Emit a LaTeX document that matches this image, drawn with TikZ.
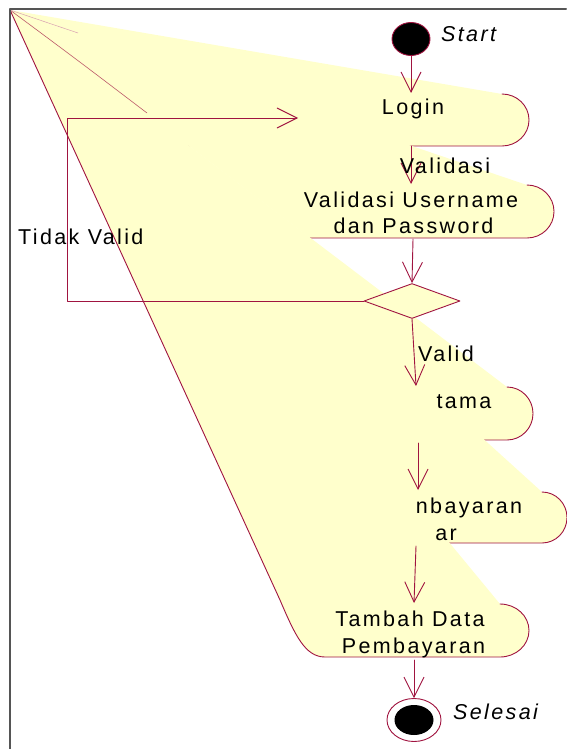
\documentclass[tikz,border=0pt]{standalone}
\usepackage{fontspec}
\setmainfont{Liberation Sans}[LetterSpace=11]
\usetikzlibrary{arrows.meta,shapes.geometric}
\definecolor{umlred}{RGB}{160,20,64}
\definecolor{umlfill}{RGB}{255,255,204}
\definecolor{framegray}{RGB}{85,85,85}
\tikzset{
  flow/.style={draw=umlred, line width=0.9pt, -{Straight Barb[length=20pt,width=20pt,line width=0.9pt]}},
  edge/.style={draw=umlred, line width=0.9pt},
  lbl/.style={inner sep=0pt, text=black},
  decision/.style={diamond, draw=umlred, fill=umlfill, line width=0.9pt, inner sep=0pt, minimum width=96pt, minimum height=35pt},
  startdot/.style={ellipse, draw=umlred, fill=black, line width=0.9pt, inner sep=0pt, minimum width=38pt, minimum height=33pt},
  enddot/.style={ellipse, draw=umlred, fill=white, line width=0.9pt, inner sep=0pt, minimum width=54pt, minimum height=43pt}
}
\begin{document}
\begin{tikzpicture}[x=1pt, y=-1pt, line join=round, line cap=round, font=\fontsize{21.5}{25}\selectfont]
  \useasboundingbox (0,0) rectangle (566,749);
  %%%%%%%%%%%%%%%%%%%%%%%%%%%%%%%%%
  \coordinate (O) at (10,10);
  \coordinate (login-n) at (411,93);
  \coordinate (login-s) at (411,146);
  \coordinate (login-w) at (298,118);
  \coordinate (val-n) at (411,184);
  \coordinate (val-s) at (413,239);
  \coordinate (uta-n) at (416,386);
  \coordinate (uta-s) at (418,443);
  \coordinate (bay-n) at (418,490);
  \coordinate (bay-s) at (416,546);
  \coordinate (tam-n) at (414,603);
  \coordinate (tam-s) at (414,660);
  \coordinate (loop-c) at (67,301);
  %%%%%%%%%%%%%%%%%%%%%%%%%%%%%%%%%
  % activities, all pulled to the corner
  \fill[umlfill] (O) -- (502,94) arc[start angle=-90, end angle=90, x radius=27, y radius=26] -- (185,146) -- cycle;
  \draw[edge] (502,94) arc[start angle=-90, end angle=90, x radius=27, y radius=26] -- (185,146);
  \fill[umlfill] (O) -- (527,185) arc[start angle=-90, end angle=90, x radius=27, y radius=26.5] -- (310,238) -- cycle;
  \draw[edge] (527,185) arc[start angle=-90, end angle=90, x radius=27, y radius=26.5] -- (310,238);
  \fill[umlfill] (O) -- (507,387) arc[start angle=-90, end angle=90, x radius=26, y radius=26.5] -- (330,440) -- cycle;
  \draw[edge] (507,387) arc[start angle=-90, end angle=90, x radius=26, y radius=26.5] -- (330,440);
  \fill[umlfill] (O) -- (542,492) arc[start angle=-90, end angle=90, x radius=25, y radius=25.5] -- (330,543) -- cycle;
  \draw[edge] (542,492) arc[start angle=-90, end angle=90, x radius=25, y radius=25.5] -- (330,543);
  \fill[umlfill] (O) -- (500,604) arc[start angle=-90, end angle=90, x radius=29, y radius=26.5] -- (325,657)
    .. controls (305,657) and (295,635) .. (280,600) -- cycle;
  \draw[edge] (500,604) arc[start angle=-90, end angle=90, x radius=29, y radius=26.5] -- (325,657)
    .. controls (305,657) and (295,635) .. (280,600) -- (O);
  \draw[umlred, line width=0.6pt, opacity=0.7] (O) .. controls (80,62) .. (147,113);
  \draw[umlred!40, line width=0.5pt] (O) -- (78,33);
  %%%%%%%%%%%%%%%%%%%%%%%%%%%%%%%%%
  \node[startdot] (start) at (411,39) {};
  \node[enddot] (stop) at (414,720) {};
  \fill[black] (stop.center) ellipse [x radius=19.5, y radius=15];
  \node[decision] (dec) at (412,301) {};
  %%%%%%%%%%%%%%%%%%%%%%%%%%%%%%%%%
  \draw[flow] (start.south) -- (login-n);
  \draw[flow] (login-s) -- (val-n);
  \draw[flow] (val-s) -- (dec.north);
  \draw[flow] (dec.south) -- (uta-n);
  \draw[flow] (uta-s) -- (bay-n);
  \draw[flow] (bay-s) -- (tam-n);
  \draw[flow] (tam-s) -- (stop.north);
  \draw[flow] (dec.west) -- (loop-c) |- (login-w);
  %%%%%%%%%%%%%%%%%%%%%%%%%%%%%%%%%
  \node[lbl, anchor=base west] (start-lbl) at (441,42) {\textit{Start}};
  \node[lbl, anchor=base] (login-txt) at (413,115) {Login};
  \node[lbl, anchor=base] (val-lbl) at (445,173) {Validasi};
  \node[lbl, anchor=base] (val-txt1) at (411,207) {Validasi Username};
  \node[lbl, anchor=base] (val-txt2) at (413.5,233) {dan Password};
  \node[lbl, anchor=base west] (tidak-lbl) at (18,244) {Tidak Valid};
  \node[lbl, anchor=base] (valid-lbl) at (446,361) {Valid};
  \node[lbl, anchor=base] (uta-txt) at (464,408) {tama};
  \node[lbl, anchor=base] (bay-txt1) at (469,513) {nbayaran};
  \node[lbl, anchor=base] (bay-txt2) at (446,540) {ar};
  \node[lbl, anchor=base] (tam-txt1) at (410,626) {Tambah Data};
  \node[lbl, anchor=base] (tam-txt2) at (413.5,653) {Pembayaran};
  \node[lbl, anchor=base west] (stop-lbl) at (453,719) {\textit{Selesai}};
  %%%%%%%%%%%%%%%%%%%%%%%%%%%%%%%%%
  \draw[framegray, line width=2pt] (566,9) -- (10,9) -- (10,749);
\end{tikzpicture}
\end{document}
